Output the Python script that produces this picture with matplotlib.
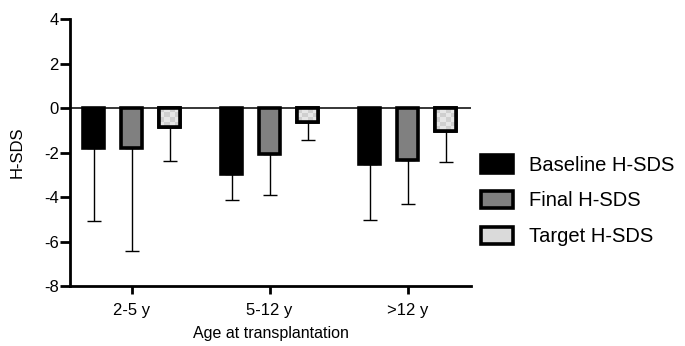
import numpy as np
import matplotlib.pyplot as plt
from matplotlib.patches import Patch

plt.rcParams['font.family'] = ['Liberation Sans', 'DejaVu Sans']
plt.rcParams['axes.unicode_minus'] = False

groups = ['2-5 y', '5-12 y', '>12 y']
series = ['Baseline H-SDS', 'Final H-SDS', 'Target H-SDS']
baseline = [-1.81, -2.97, -2.52]
baseline_sd = [3.27, 1.18, 2.53]
final = [-1.80, -2.07, -2.34]
final_sd = [4.61, 1.85, 1.97]
target = [-0.87, -0.61, -1.02]
target_sd = [1.53, 0.83, 1.41]

values = [baseline, final, target]
sds = [baseline_sd, final_sd, target_sd]
faces = ['black', '#808080', '#dadada']


def checker(ax, rect):
    # light checkered fill like the Prism pattern, clipped to the bar
    x0, y0 = rect.get_x(), rect.get_y()
    w, h = rect.get_width(), rect.get_height()
    nx = max(int(abs(w) / 0.033), 1)
    ny = max(int(abs(h) / 0.19), 1)
    grid = (np.add.outer(np.arange(ny), np.arange(nx)) % 2).astype(float)
    im = ax.imshow(grid, cmap='gray', vmin=-9.0, vmax=2.1, aspect='auto',
                   extent=(x0, x0 + w, y0 + h, y0), interpolation='nearest',
                   zorder=2.5)
    im.set_clip_path(rect)


fig = plt.figure(figsize=(6.85, 3.46), dpi=100)
ax = fig.add_axes([0.102, 0.173, 0.586, 0.772])

x = np.arange(len(groups))
step = 0.275
width = 0.155
for i, (vals, sd) in enumerate(zip(values, sds)):
    pos = x + (i - 1) * step
    ax.errorbar(pos, vals, yerr=[sd, [0] * len(sd)], fmt='none',
                ecolor='black', elinewidth=1.0, capsize=5, capthick=1.0,
                zorder=1)
    bars = ax.bar(pos, vals, width, color=faces[i], edgecolor='black',
                  linewidth=2.6, zorder=2)
    if i == 2:
        for b in bars:
            checker(ax, b)
        ax.bar(pos, vals, width, color='none', edgecolor='black',
               linewidth=2.6, zorder=3)

ax.axhline(0, color='black', linewidth=1.1, zorder=1.5)

ax.set_xlim(-0.447, 2.46)
ax.set_ylim(-8, 4)
ax.set_yticks(range(-8, 5, 2))
ax.set_xticks(x)
ax.set_xticklabels(groups)
ax.tick_params(axis='y', labelsize=12, width=2, length=7, pad=1)
ax.tick_params(axis='x', labelsize=12, width=2, length=6, pad=6)
for s in ['top', 'right']:
    ax.spines[s].set_visible(False)
for s in ['left', 'bottom']:
    ax.spines[s].set_linewidth(2)

ax.set_ylabel('H-SDS', fontsize=12, labelpad=14)
ax.set_xlabel('Age at transplantation', fontsize=11.5, labelpad=6)

handles = [Patch(facecolor=f, edgecolor='black', linewidth=2.6) for f in faces]
fig.legend(handles, series, loc='center left', bbox_to_anchor=(0.676, 0.42),
           frameon=False, fontsize=14.5, handlelength=1.6, handleheight=0.95,
           labelspacing=0.8, handletextpad=0.75)

fig.savefig('out.png', dpi=100)
